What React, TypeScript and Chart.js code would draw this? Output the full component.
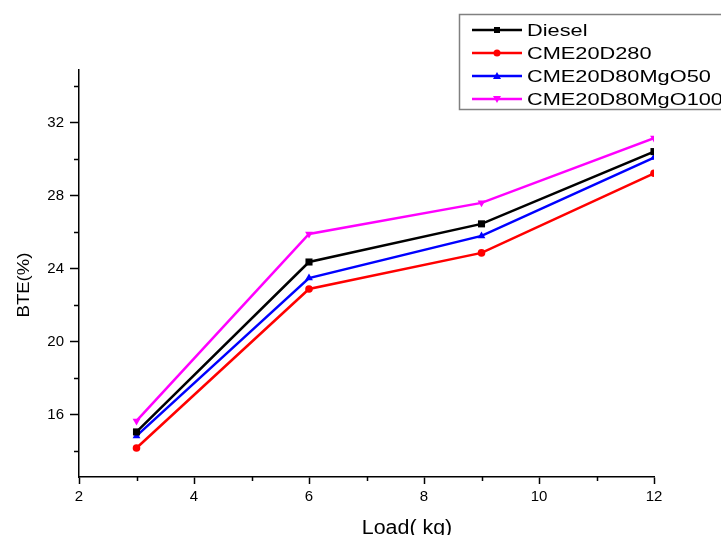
import React, { useEffect, useRef } from "react";
import { Chart, registerables } from "chart.js";

Chart.register(...registerables);

const loads = [3, 6, 9, 12];
const seriesNames = ["Diesel", "CME20D280", "CME20D80MgO50", "CME20D80MgO100"];
const diesel = [15.07, 24.38, 26.47, 30.43];
const cme20d280 = [14.19, 22.9, 24.88, 29.24];
const mgo50 = [14.85, 23.5, 25.81, 30.1];
const mgo100 = [15.67, 25.92, 27.62, 31.17];
const xTicks = [2, 4, 6, 8, 10, 12];
const xMinorTicks = [3, 5, 7, 9, 11];
const yTicks = [16, 20, 24, 28, 32];
const yMinorTicks = [14, 18, 22, 26, 30, 34];

const colors = ["#000000", "#ff0000", "#0000ff", "#ff00ff"];
const styles = [
  { pointStyle: "rect", radius: 5, rotation: 0 },
  { pointStyle: "circle", radius: 3.8, rotation: 0 },
  { pointStyle: "triangle", radius: 4.5, rotation: 0 },
  { pointStyle: "triangle", radius: 4.5, rotation: 180 },
];

const FONT = "'Liberation Sans', Arial, sans-serif";

function drawMarker(ctx: CanvasRenderingContext2D, i: number, x: number, y: number) {
  const c = colors[i];
  ctx.fillStyle = c;
  ctx.strokeStyle = c;
  const st = styles[i];
  ctx.beginPath();
  if (st.pointStyle === "rect") {
    ctx.rect(x - 3, y - 3, 6, 6);
  } else if (st.pointStyle === "circle") {
    ctx.arc(x, y, 3.5, 0, Math.PI * 2);
  } else if (st.rotation === 0) {
    ctx.moveTo(x, y - 4);
    ctx.lineTo(x + 4, y + 3);
    ctx.lineTo(x - 4, y + 3);
    ctx.closePath();
  } else {
    ctx.moveTo(x, y + 4);
    ctx.lineTo(x + 4, y - 3);
    ctx.lineTo(x - 4, y - 3);
    ctx.closePath();
  }
  ctx.fill();
}

const decorPlugin = {
  id: "decor",
  afterDraw(chart: any) {
    const ctx: CanvasRenderingContext2D = chart.ctx;
    const xs = chart.scales.x;
    const ys = chart.scales.y;
    const area = chart.chartArea;
    ctx.save();
    // minor ticks
    ctx.strokeStyle = "#000";
    ctx.lineWidth = 1.5;
    ctx.beginPath();
    for (const v of xMinorTicks) {
      const px = Math.round(xs.getPixelForValue(v)) + 0.5;
      ctx.moveTo(px, area.bottom);
      ctx.lineTo(px, area.bottom + 4);
    }
    for (const v of yMinorTicks) {
      const py = Math.round(ys.getPixelForValue(v)) + 0.5;
      ctx.moveTo(area.left - 5, py);
      ctx.lineTo(area.left, py);
    }
    ctx.stroke();

    // axis titles
    ctx.fillStyle = "#000";
    ctx.font = `20px ${FONT}`;
    ctx.textAlign = "center";
    ctx.textBaseline = "alphabetic";
    ctx.save();
    ctx.translate(407, 534);
    ctx.scale(1.07, 1);
    ctx.fillText("Load( kg)", 0, 0);
    ctx.restore();

    ctx.font = `17px ${FONT}`;
    ctx.save();
    ctx.translate(29, 285);
    ctx.rotate(-Math.PI / 2);
    ctx.scale(1.09, 1);
    ctx.fillText("BTE(%)", 0, 0);
    ctx.restore();

    // legend
    ctx.strokeStyle = "#808080";
    ctx.lineWidth = 1.5;
    ctx.strokeRect(459.5, 14.5, 320, 95);
    for (let i = 0; i < seriesNames.length; i++) {
      const y = 30 + i * 23;
      ctx.strokeStyle = colors[i];
      ctx.lineWidth = 2.5;
      ctx.beginPath();
      ctx.moveTo(472, y);
      ctx.lineTo(522, y);
      ctx.stroke();
      drawMarker(ctx, i, 497, y);
      ctx.fillStyle = "#000";
      ctx.font = `17px ${FONT}`;
      ctx.textAlign = "left";
      ctx.textBaseline = "middle";
      ctx.save();
      ctx.translate(527, y + 1);
      ctx.scale(1.28, 1);
      ctx.fillText(seriesNames[i], 0, 0);
      ctx.restore();
    }
    ctx.restore();
  },
};

export default function App() {
  const canvasRef = useRef<HTMLCanvasElement | null>(null);

  useEffect(() => {
    const canvas = canvasRef.current;
    if (!canvas) return;
    const seriesValues = [diesel, cme20d280, mgo50, mgo100];
    const chart = new Chart(canvas, {
      type: "line",
      data: {
        datasets: seriesValues.map((vals, i) => ({
          label: seriesNames[i],
          data: loads.map((x, j) => ({ x, y: vals[j] })),
          borderColor: colors[i],
          backgroundColor: colors[i],
          borderWidth: 2.5,
          pointStyle: styles[i].pointStyle as any,
          pointRadius: styles[i].radius,
          pointRotation: styles[i].rotation,
          pointBorderWidth: 0,
          pointBackgroundColor: colors[i],
          tension: 0,
          fill: false,
        })),
      },
      plugins: [decorPlugin],
      options: {
        animation: false,
        responsive: false,
        devicePixelRatio: 1,
        layout: { padding: { left: 0, right: 67, top: 70, bottom: 0 } },
        plugins: {
          legend: { display: false },
          tooltip: { enabled: false },
          title: { display: false },
        },
        scales: {
          x: {
            type: "linear",
            min: 2,
            max: 12,
            afterFit: (s: any) => {
              s.height = 58;
            },
            afterBuildTicks: (s: any) => {
              s.ticks = xTicks.map((v) => ({ value: v }));
            },
            ticks: {
              color: "#000",
              font: { family: FONT, size: 15 },
              padding: 4,
              maxRotation: 0,
              autoSkip: false,
            },
            grid: {
              display: true,
              drawOnChartArea: false,
              drawTicks: true,
              tickLength: 7,
              tickWidth: 1.5,
              tickColor: "#000",
            },
            border: { display: true, color: "#000", width: 1.5 },
          },
          y: {
            type: "linear",
            min: 12.6,
            max: 34.9,
            afterFit: (s: any) => {
              s.width = 79;
            },
            afterBuildTicks: (s: any) => {
              s.ticks = yTicks.map((v) => ({ value: v }));
            },
            ticks: {
              color: "#000",
              font: { family: FONT, size: 15 },
              padding: 6,
              autoSkip: false,
            },
            grid: {
              display: true,
              drawOnChartArea: false,
              drawTicks: true,
              tickLength: 9,
              tickWidth: 1.5,
              tickColor: "#000",
            },
            border: { display: true, color: "#000", width: 1.5 },
          },
        },
      },
    });
    return () => chart.destroy();
  }, []);

  return (
    <div style={{ position: "absolute", left: 0, top: 0, width: 721, height: 535, background: "#fff" }}>
      <canvas ref={canvasRef} width={721} height={535} style={{ display: "block" }} />
    </div>
  );
}
